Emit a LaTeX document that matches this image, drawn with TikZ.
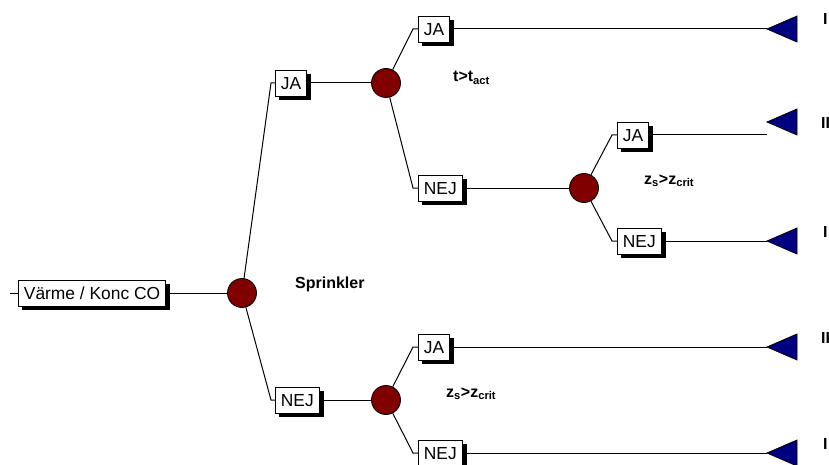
\documentclass[tikz,border=0pt]{standalone}
\usepackage{fontspec}
\setmainfont{Liberation Sans}
\usetikzlibrary{backgrounds}
\definecolor{chance}{RGB}{128,0,0}
\definecolor{endnavy}{RGB}{0,0,128}
\pgfdeclarelayer{shadowlayer}
\pgfsetlayers{background,shadowlayer,main}
\begin{document}
\begin{tikzpicture}[x=1pt,y=-1pt,
  box/.style={draw=black,line width=0.8pt,fill=white,anchor=west,
    minimum height=26pt,inner xsep=5.5pt,inner ysep=0pt,
    text height=12.5pt,text depth=0pt,
    font=\fontsize{17.4}{20}\selectfont},
  boxshadow/.style={fill=black},
  chancenode/.style={circle,draw=black,line width=0.8pt,fill=chance,minimum size=29pt,inner sep=0pt},
  conn/.style={draw=black,line width=1pt},
  tri/.style={draw=black,line width=0.8pt,fill=endnavy},
  lbl/.style={anchor=base west,inner sep=0pt,font=\fontsize{16}{18}\bfseries\selectfont},
  outlbl/.style={anchor=base west,inner sep=0pt,font=\fontsize{16}{18}\bfseries\selectfont}]
\useasboundingbox (0,0) rectangle (829,465);

% nodes
\node[box] (root) at (18,293) {Värme / Konc CO};
\coordinate (s0) at (10,293);
\node[chancenode] (c1) at (242,293) {};
\coordinate (e1) at (271,83);
\coordinate (e2) at (271,400);
\node[box] (ja1) at (275,83) {JA};
\node[box] (nej1) at (275,400) {NEJ};
\node[chancenode] (c2) at (386,83) {};
\node[chancenode] (c4) at (386,400) {};
\coordinate (e3) at (413,29);
\coordinate (e4) at (413,188);
\coordinate (e5) at (413,347);
\coordinate (e6) at (413,453);
\node[box] (jatop) at (418,29) {JA};
\node[box] (nej2) at (418,188) {NEJ};
\node[box] (ja4) at (418,347) {JA};
\node[box] (nej5) at (418,453) {NEJ};
\node[chancenode] (c3) at (584,188) {};
\coordinate (e7) at (612,135);
\coordinate (e8) at (612,241);
\node[box] (ja2) at (617,135) {JA};
\node[box] (nej3) at (617,241) {NEJ};

% box shadows
\begin{pgfonlayer}{shadowlayer}
\foreach \n in {root,ja1,nej1,jatop,nej2,ja4,nej5,ja2,nej3}{
  \fill[boxshadow] ([shift={(4,4)}]\n.south west) rectangle ([shift={(4,4)}]\n.north east);
}
\end{pgfonlayer}

% end triangles
\coordinate (t1) at (767,29);
\coordinate (t2) at (767,122);
\coordinate (t2l) at (767,135);
\coordinate (t3) at (767,241);
\coordinate (t4) at (767,347);
\coordinate (t5) at (767,453);
\foreach \t in {t1,t2,t3,t4,t5}{
  \draw[tri] (\t) -- ++(30,-13) -- ++(0,26) -- cycle;
}

% connectors
\begin{scope}[on background layer]
\draw[conn] (s0) -- (root.west);
\draw[conn] (root.east) -- (c1);
\draw[conn] (c1) -- (e1) -- (ja1.west);
\draw[conn] (c1) -- (e2) -- (nej1.west);
\draw[conn] (ja1.east) -- (c2);
\draw[conn] (nej1.east) -- (c4);
\draw[conn] (c2) -- (e3) -- (jatop.west);
\draw[conn] (c2) -- (e4) -- (nej2.west);
\draw[conn] (c4) -- (e5) -- (ja4.west);
\draw[conn] (c4) -- (e6) -- (nej5.west);
\draw[conn] (nej2.east) -- (c3);
\draw[conn] (c3) -- (e7) -- (ja2.west);
\draw[conn] (c3) -- (e8) -- (nej3.west);
\draw[conn] (jatop.east) -- (t1);
\draw[conn] (ja2.east) -- (t2l);
\draw[conn] (nej3.east) -- (t3);
\draw[conn] (ja4.east) -- (t4);
\draw[conn] (nej5.east) -- (t5);
\end{scope}

% labels
\node[lbl] (sprink) at (295,288) {Sprinkler};
\node[lbl] (tact) at (453,82) {t>t\textsubscript{act}};
\node[lbl] (zs1) at (644,184) {z\textsubscript{s}>z\textsubscript{crit}};
\node[lbl] (zs2) at (446,397) {z\textsubscript{s}>z\textsubscript{crit}};

\node[outlbl] (o1) at (823,25) {I};
\node[outlbl] (o2) at (821,129) {II};
\node[outlbl] (o3) at (823,237) {I};
\node[outlbl] (o4) at (821,343) {II};
\node[outlbl] (o5) at (823,449) {I};
\end{tikzpicture}
\end{document}
